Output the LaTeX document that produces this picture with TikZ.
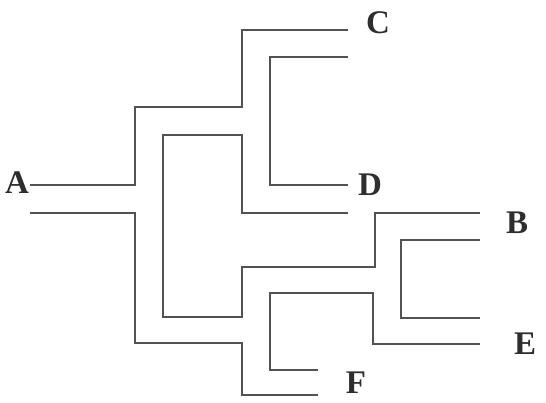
\documentclass[tikz,border=0pt]{standalone}
\usepackage{fontspec}
\setmainfont{Liberation Serif}
\usepackage{tikz}
\usetikzlibrary{positioning}

\begin{document}
\begin{tikzpicture}[x=1pt,y=-1pt,
    tube/.style={draw=black!68,line width=2.8pt,line join=miter},
    taxon/.style={font=\fontsize{33}{33}\selectfont\bfseries,text=black!82,inner sep=0pt}]
    % cadre : 1 px = 1 pt, y vers le bas
    \useasboundingbox (0,0) rectangle (546,403);
    % parois exterieures
    \draw[tube] (30,185) -| (135,107) -| (242,30) -- (348,30);
    \draw[tube] (30,213) -| (135,343) -| (242,395) -- (318,395);
    % paroi interieure principale
    \draw[tube] (348,213) -| (242,135) -| (163,317) -| (242,267) -| (375,213) -- (480,213);
    % separations
    \draw[tube] (348,57) -| (270,185) -- (348,185);
    \draw[tube] (480,240) -| (401,318) -- (480,318);
    \draw[tube] (480,344) -| (373,293) -| (270,370) -- (318,370);
    % etiquettes
    \node[taxon] (tA) at (17,183) {A};
    \node[taxon] (tC) at (378,23) {C};
    \node[taxon] (tD) at (370,185) {D};
    \node[taxon] (tB) at (517,223) {B};
    \node[taxon] (tE) at (525,344) {E};
    \node[taxon] (tF) at (356,383) {F};
\end{tikzpicture}
\end{document}
